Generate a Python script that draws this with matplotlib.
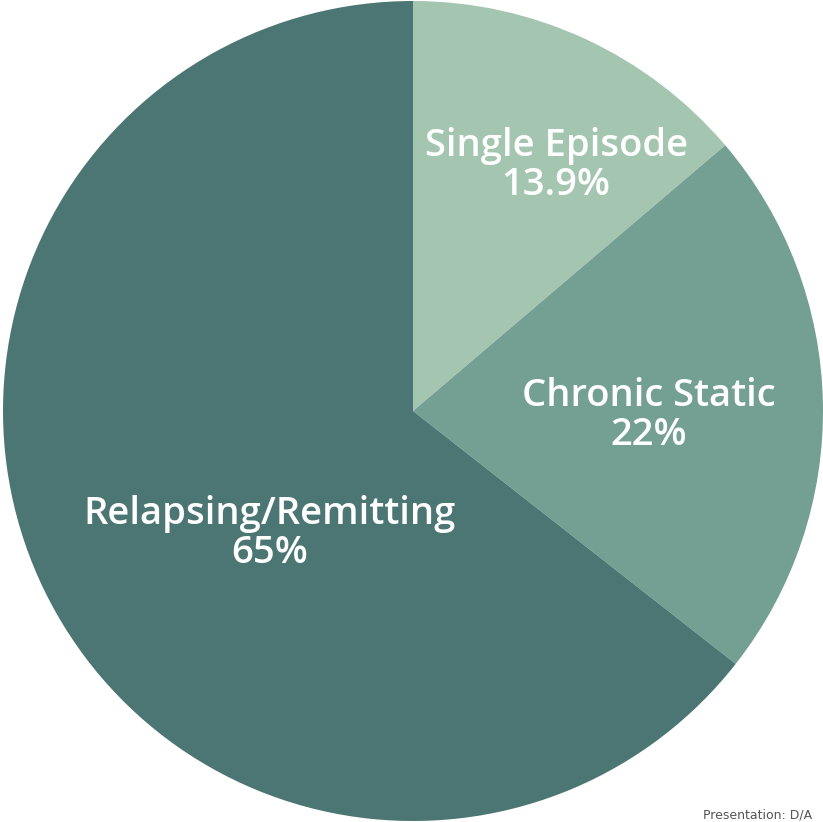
import matplotlib

matplotlib.use("Agg")
import matplotlib.pyplot as plt

# ====== Data ======
categories = ["Single Episode", "Chronic Static", "Relapsing/Remitting"]
values = [13.9, 22, 65]
value_labels = ["13.9%", "22%", "65%"]

# ====== Style ======
colors = ["#a4c6b0", "#74a094", "#4b7673"]
# label centres in data units (pie radius = 1)
label_pos = [(0.349, 0.598), (0.576, -0.012), (-0.349, -0.298)]

fig = plt.figure(figsize=(8.23, 8.22), dpi=100)
ax = fig.add_axes([0, 0, 1, 1])

ax.pie(
    values,
    colors=colors,
    startangle=90,
    counterclock=False,
    radius=1.0,
    wedgeprops=dict(linewidth=0),
)

for name, val, (x, y) in zip(categories, value_labels, label_pos):
    ax.text(
        x, y, f"{name}\n{val}",
        ha="center", va="center", color="white",
        fontsize=27.5, fontweight="semibold", family="Open Sans",
        linespacing=1.03,
    )

ax.set_aspect("equal")
ax.set_xlim(-413 / 410, 410 / 410)
ax.set_ylim(-411 / 410, 411 / 410)
ax.axis("off")

fig.text(703 / 823, 1 / 822, "Presentation: D/A", fontsize=9,
         color="#555555", ha="left", va="bottom")

fig.savefig("out.png", dpi=100)
